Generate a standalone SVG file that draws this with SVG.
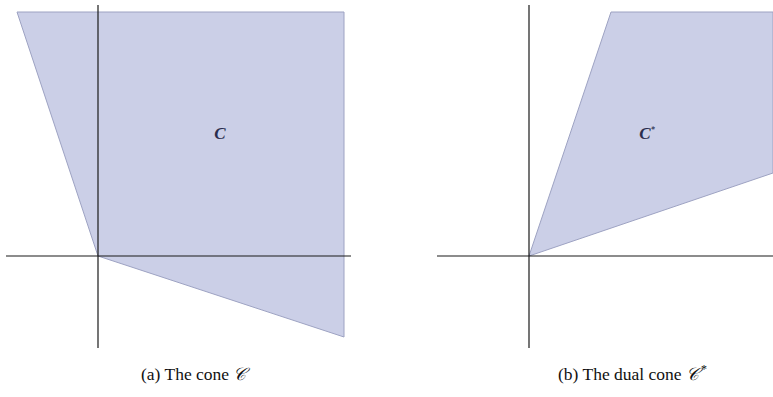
<svg xmlns="http://www.w3.org/2000/svg" width="773" height="397" viewBox="0 0 773 397">
<style>
.cone{fill:#cbcfe7;stroke:#9da2c2;stroke-width:1}
.axis{stroke:#1a1a1a;stroke-width:1.2;fill:none}
.lbl{font-family:"Liberation Serif","DejaVu Serif",serif;font-style:italic;font-weight:bold;fill:#2a2d4e;font-size:17px}
.cap{font-family:"Liberation Serif","DejaVu Serif",serif;font-size:17.5px;fill:#111}
</style>
<rect width="773" height="397" fill="#fff"/>
<g id="cone-a">
<polygon class="cone" points="17,12 344,12 344,337 98,256"/>
<text class="lbl" x="220" y="139" text-anchor="middle">C</text>
</g>
<g id="cone-b">
<polygon class="cone" points="529,256 611,12 773,12 773,173"/>
<text class="lbl" x="647" y="139" text-anchor="middle">C<tspan font-size="8" dy="-7">*</tspan></text>
</g>
<g id="axes">
<line class="axis" x1="98" y1="5" x2="98" y2="348"/>
<line class="axis" x1="6" y1="256" x2="351" y2="256"/>
<line class="axis" x1="529" y1="5" x2="529" y2="348"/>
<line class="axis" x1="437" y1="256" x2="773" y2="256"/>
</g>
<g id="captions">
<text class="cap" x="141" y="380">(a) The cone <tspan font-family="DejaVu Serif" font-style="italic">𝒞</tspan></text>
<text class="cap" x="558" y="380">(b) The dual cone <tspan font-family="DejaVu Serif" font-style="italic">𝒞</tspan><tspan font-size="12" dx="2" dy="-7">*</tspan></text>
</g>
</svg>
